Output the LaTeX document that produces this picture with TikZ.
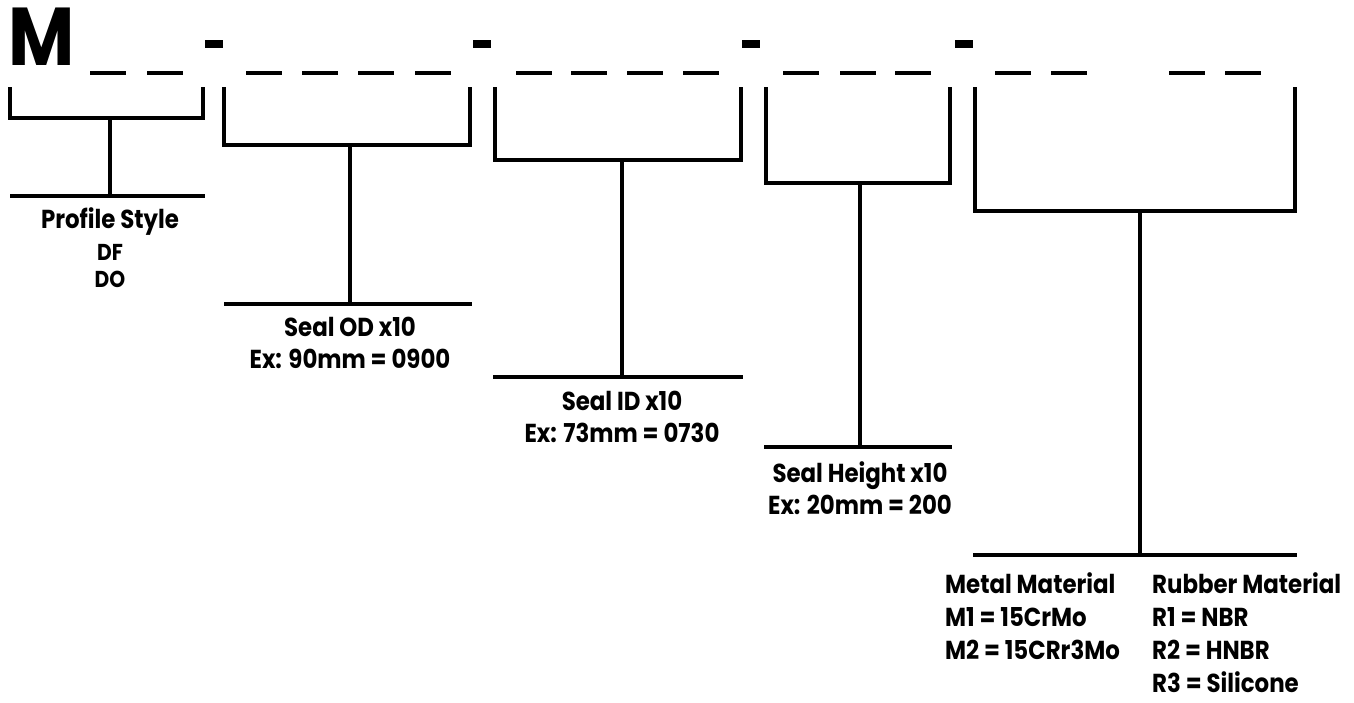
\documentclass[tikz,border=0pt]{standalone}
\usepackage{fontspec}
\setmainfont{Poppins}[FakeStretch=0.88]
\usetikzlibrary{positioning}
\tikzset{
  pn/brk/.style={line width=4pt, draw=black},
  pn/blank/.style={line width=4.5pt, draw=black},
  pn/code/.style={font=\fontsize{82}{82}\selectfont\bfseries, inner sep=0pt},
  pn/lbl/.style={font=\fontsize{26}{32}\selectfont\bfseries, align=center,
    inner sep=0pt},
  pn/sub/.style={font=\fontsize{23}{27}\selectfont\bfseries, align=center,
    inner sep=0pt},
  pn/mat/.style={font=\fontsize{26}{33}\selectfont\bfseries, align=left,
    inner sep=0pt, anchor=north west}
}
\begin{document}
\begin{tikzpicture}[x=1pt, y=-1pt]
  \useasboundingbox (0,0) rectangle (1354,702);
  % part number mask
  \node[pn/code, anchor=base west] (m) at (8,65) {M};
  \foreach \x in {90,147,246,302,358,415,516,571,627,683,783,840,895,995,1051,1169,1225}
    \draw[pn/blank] (\x,73) -- ++(36,0);
  \foreach \x in {205,473,742,955}
    \fill (\x,40) rectangle ++(18,8);

  % brackets
  \coordinate (t1) at (110,118);  \coordinate (r1) at (110,196);
  \coordinate (t2) at (350,145);  \coordinate (r2) at (350,304);
  \coordinate (t3) at (622,160);  \coordinate (r3) at (622,377);
  \coordinate (t4) at (860,183);  \coordinate (r4) at (860,447);
  \coordinate (t5) at (1140,211); \coordinate (r5) at (1140,555);

  \draw[pn/brk] (10,87) |- (203,118) -- (203,87);
  \draw[pn/brk] (224,87) |- (470,145) -- (470,87);
  \draw[pn/brk] (495,87) |- (741,160) -- (741,87);
  \draw[pn/brk] (766,87) |- (950,183) -- (950,87);
  \draw[pn/brk] (975,87) |- (1295,211) -- (1295,87);

  \draw[pn/brk] (t1) -- (r1);
  \draw[pn/brk] (t2) -- (r2);
  \draw[pn/brk] (t3) -- (r3);
  \draw[pn/brk] (t4) -- (r4);
  \draw[pn/brk] (t5) -- (r5);

  \draw[pn/brk] (10,196) -- (205,196);
  \draw[pn/brk] (224,304) -- (472,304);
  \draw[pn/brk] (493,377) -- (743,377);
  \draw[pn/brk] (764,447) -- (952,447);
  \draw[pn/brk] (973,555) -- (1297,555);

  % labels
  \node[pn/lbl, below=11pt of r1] (profile) {Profile Style};
  \node[pn/sub, below=9pt of profile] (styles) {DF\\DO};
  \node[pn/lbl, below=13pt of r2] (od) {Seal OD x10\\Ex: 90mm = 0900};
  \node[pn/lbl, below=14pt of r3] (id) {Seal ID x10\\Ex: 73mm = 0730};
  \node[pn/lbl, below=14pt of r4] (height) {Seal Height x10\\Ex: 20mm = 200};
  \node[pn/mat] (metal) at (945,572) {Metal Material\\M1 = 15CrMo\\M2 = 15CRr3Mo};
  \node[pn/mat] (rubber) at (1152,572) {Rubber Material\\R1 = NBR\\R2 = HNBR\\R3 = Silicone};
\end{tikzpicture}
\end{document}
